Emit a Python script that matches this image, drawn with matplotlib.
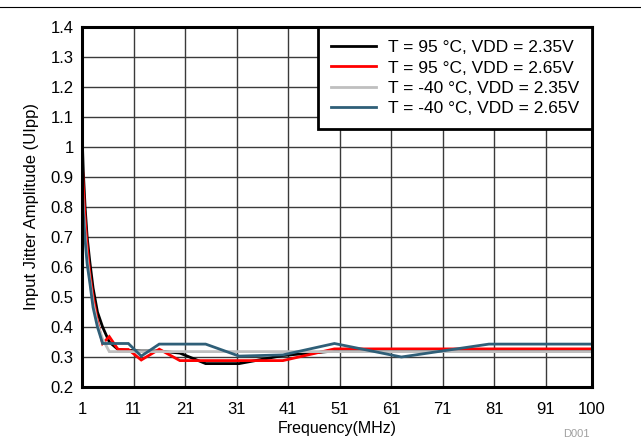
import matplotlib
matplotlib.use("Agg")
import matplotlib.pyplot as plt
from matplotlib.lines import Line2D

plt.rcParams['font.family'] = ['Liberation Sans', 'DejaVu Sans']

# Jitter tolerance sweep frequencies (MHz)
freq = [1, 1.25, 1.6, 2, 2.5, 3.15, 4, 5, 6.3, 8, 10, 12.5, 16, 20, 25,
        31.5, 40, 50, 63, 80, 100]

# Input jitter amplitude (UIpp) per condition
hot_235 = [1.05, 0.92, 0.80, 0.70, 0.62, 0.53, 0.45, 0.40, 0.35, 0.325, 0.322,
           0.320, 0.320, 0.313, 0.278, 0.278, 0.305, 0.320, 0.320, 0.320, 0.320]
hot_265 = [0.98, 0.87, 0.76, 0.67, 0.58, 0.50, 0.42, 0.345, 0.368, 0.325, 0.325,
           0.290, 0.326, 0.288, 0.288, 0.288, 0.288, 0.327, 0.327, 0.327, 0.327]
cold_235 = [0.90, 0.80, 0.71, 0.63, 0.56, 0.48, 0.41, 0.36, 0.318, 0.318, 0.318,
            0.318, 0.318, 0.318, 0.318, 0.318, 0.318, 0.318, 0.318, 0.318, 0.318]
cold_265 = [0.88, 0.78, 0.69, 0.61, 0.55, 0.465, 0.40, 0.345, 0.345, 0.345, 0.345,
            0.303, 0.343, 0.343, 0.343, 0.303, 0.307, 0.345, 0.300, 0.343, 0.343]

series = [
    ("T = 95 °C, VDD = 2.35V", hot_235, "#000000"),
    ("T = 95 °C, VDD = 2.65V", hot_265, "#ff0000"),
    ("T = -40 °C, VDD = 2.35V", cold_235, "#bfbfbf"),
    ("T = -40 °C, VDD = 2.65V", cold_265, "#2f5f78"),
]

xticks = [1, 11, 21, 31, 41, 51, 61, 71, 81, 91, 100]
yticks = [0.2, 0.3, 0.4, 0.5, 0.6, 0.7, 0.8, 0.9, 1.0, 1.1, 1.2, 1.3, 1.4]
ytick_labels = ["0.2", "0.3", "0.4", "0.5", "0.6", "0.7", "0.8", "0.9", "1",
                "1.1", "1.2", "1.3", "1.4"]

fig = plt.figure(figsize=(6.41, 4.38), dpi=100)
ax = fig.add_axes([82 / 641, 1 - 387 / 438, 510 / 641, 360 / 438])

for label, vals, color in series:
    ax.plot(freq, vals, color=color, lw=2.0, label=label, solid_joinstyle='miter')

ax.set_xlim(1, 100)
ax.set_ylim(0.2, 1.4)
ax.set_xticks(xticks)
ax.set_yticks(yticks)
ax.set_yticklabels(ytick_labels)
ax.tick_params(length=0, labelsize=12, colors='#000000')
ax.tick_params(axis='x', pad=11)
ax.tick_params(axis='y', pad=6)
ax.grid(True, color='#3a3a3a', lw=1.0)
ax.set_axisbelow(True)
for sp in ax.spines.values():
    sp.set_linewidth(2.2)
    sp.set_color('#000000')

ax.set_ylabel("Input Jitter Amplitude (UIpp)", fontsize=12, labelpad=8)
ax.set_xlabel("Frequency(MHz)", fontsize=11.5, labelpad=3)

leg = ax.legend(loc='upper right', bbox_to_anchor=(1.0, 1.0), borderaxespad=0,
                fancybox=False, framealpha=1, edgecolor='#000000', fontsize=12.5,
                handlelength=2.6, handletextpad=0.65, labelspacing=0.3,
                borderpad=0.75)
leg.get_frame().set_linewidth(2.0)

# header rule across the top of the page
fig.add_artist(Line2D([0, 1], [1 - 7 / 438, 1 - 7 / 438], color='#000000', lw=0.8))
fig.text(0.878, 1 - 429 / 438, "D001", fontsize=8, color='#a0a0a0', va='top')

fig.savefig("out.png", dpi=100)
